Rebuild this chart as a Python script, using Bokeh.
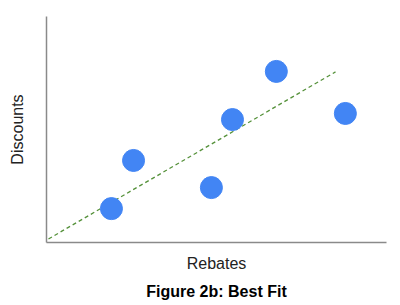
from bokeh.plotting import figure
from bokeh.models import Range1d, FixedTicker
from bokeh.embed import file_html
from bokeh.resources import INLINE

rebates = [1.91, 2.56, 4.85, 5.47, 6.76, 8.79]
discounts = [1.50, 3.63, 2.43, 5.44, 7.57, 5.71]
fit_x = [-0.12, 8.5]
fit_y = [0.0, 7.55]

p = figure(width=400, height=305, output_backend="svg", toolbar_location=None,
           x_range=Range1d(0, 10), y_range=Range1d(0, 10),
           title="Figure 2b: Best Fit", title_location="below",
           min_border_left=46, min_border_right=14, min_border_top=16, min_border_bottom=63)
p.outline_line_color = None
p.grid.visible = False
p.background_fill_color = "white"
p.border_fill_color = "white"

for ax in (p.xaxis[0], p.yaxis[0]):
    ax.ticker = FixedTicker(ticks=[])
    ax.major_tick_out = 0
    ax.minor_tick_out = 0
    ax.major_tick_in = 0
    ax.minor_tick_in = 0
    ax.major_label_standoff = 0
    ax.axis_line_color = "#8a8a8a"
    ax.axis_line_width = 1.5
    ax.axis_label_text_font = "Liberation Sans"
    ax.axis_label_text_font_size = "16px"
    ax.axis_label_text_font_style = "normal"
    ax.axis_label_text_color = "#222222"

p.xaxis.axis_label = "Rebates"
p.yaxis.axis_label = "Discounts"
p.xaxis.axis_label_standoff = 12
p.yaxis.axis_label_standoff = 21

p.title.text_font = "Liberation Sans"
p.title.text_font_size = "16px"
p.title.text_font_style = "bold"
p.title.align = "center"
p.title.text_color = "#000000"
p.title.standoff = 12

p.line(fit_x, fit_y, line_color="#55913a", line_width=1.3, line_dash="4 3")
p.scatter(rebates, discounts, size=22, fill_color="#4285f4", line_color="#4285f4")

open("out.html", "w").write(file_html(p, INLINE))
